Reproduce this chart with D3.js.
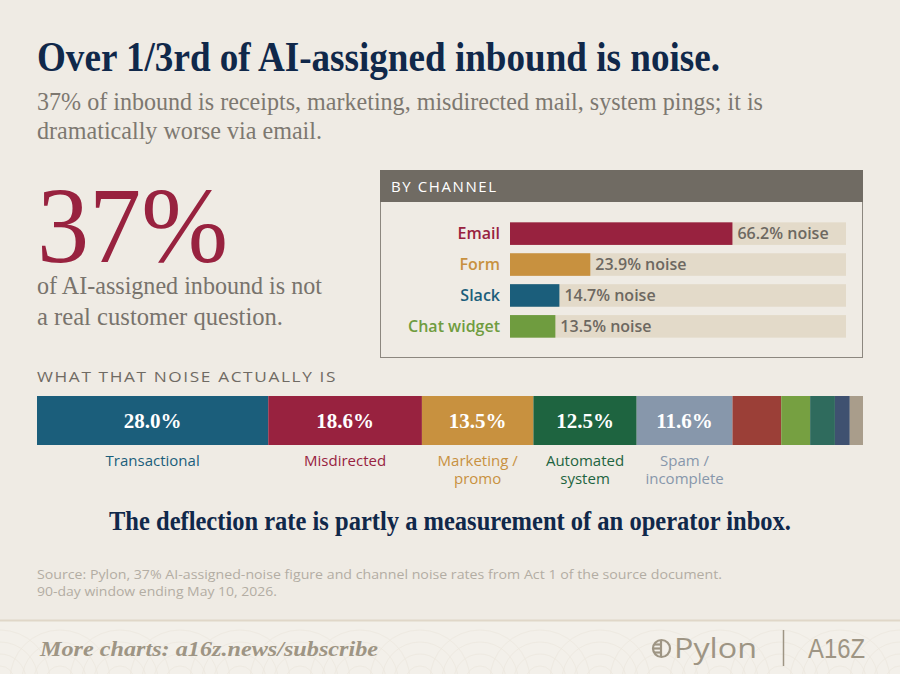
<!DOCTYPE html>
<html>
<head>
<meta charset="utf-8">
<script src="https://cdn.jsdelivr.net/npm/d3@7/dist/d3.min.js"></script>
<style>
  html, body { margin: 0; padding: 0; background: #efebe4; }
  svg { display: block; }
</style>
</head>
<body>
<div id="chart"></div>
<script>
// ---------- DATA ----------
const channels = ["Email", "Form", "Slack", "Chat widget"];
const channelNoise = [66.2, 23.9, 14.7, 13.5];
const channelColors = ["#98223f", "#c8913f", "#1b5e7b", "#6f9c3f"];

const noiseTypes = ["Transactional", "Misdirected", "Marketing / promo", "Automated system", "Spam / incomplete", "Other A", "Other B", "Other C", "Other D", "Other E"];
const noiseShares = [28.0, 18.6, 13.5, 12.5, 11.6, 5.9, 3.5, 3.0, 1.8, 1.6];
const noiseLabelLines = [["Transactional"], ["Misdirected"], ["Marketing /", "promo"], ["Automated", "system"], ["Spam /", "incomplete"], [], [], [], [], []];
const noiseShowValue = [true, true, true, true, true, false, false, false, false, false];
const noiseColors = ["#1b5e7b", "#98223f", "#c8913f", "#1e6440", "#8797ab", "#9b3f37", "#76a041", "#2f6b5d", "#3f5170", "#a99d8b"];

const headline = "Over 1/3rd of AI-assigned inbound is noise.";
const subtitleLines = ["37% of inbound is receipts, marketing, misdirected mail, system pings; it is", "dramatically worse via email."];
const bigStat = "37%";
const bigStatLines = ["of AI-assigned inbound is not", "a real customer question."];
const takeaway = "The deflection rate is partly a measurement of an operator inbox.";
const sourceLines = ["Source: Pylon, 37% AI-assigned-noise figure and channel noise rates from Act 1 of the source document.", "90-day window ending May 10, 2026."];

// ---------- SETUP ----------
const W = 900, H = 674;
const svg = d3.select("#chart").append("svg").attr("width", W).attr("height", H);
svg.append("rect").attr("width", W).attr("height", H).attr("fill", "#efebe4");

function txt(g, s, x, y, o) {
  const t = g.append("text").attr("x", x).attr("y", y).text(s)
    .attr("font-family", o.family || "Liberation Serif")
    .attr("font-size", o.size)
    .attr("fill", o.fill || "#000");
  if (o.weight) t.attr("font-weight", o.weight);
  if (o.style) t.attr("font-style", o.style);
  if (o.anchor) t.attr("text-anchor", o.anchor);
  if (o.ls) t.attr("letter-spacing", o.ls);
  if (o.len) t.attr("textLength", o.len).attr("lengthAdjust", "spacingAndGlyphs");
  return t;
}

// ---------- HEADER ----------
txt(svg, headline, 37, 71, {size: 42, weight: "bold", fill: "#10284a", len: 683});
txt(svg, subtitleLines[0], 37, 110, {size: 25, fill: "#7d7870", len: 726});
txt(svg, subtitleLines[1], 37, 139, {size: 25, fill: "#7d7870", len: 285});

// ---------- BIG STAT (one text block) ----------
const bs = svg.append("text").attr("font-family", "Liberation Serif");
bs.append("tspan").attr("x", 37).attr("y", 262).attr("font-size", 108).attr("fill", "#98223f")
  .attr("textLength", 191).attr("lengthAdjust", "spacingAndGlyphs").text(bigStat);
const bsLens = [285, 246];
bigStatLines.forEach((ln, k) => {
  bs.append("tspan").attr("x", 37).attr("y", 294 + k * 31).attr("font-size", 25).attr("fill", "#78736c")
    .attr("textLength", bsLens[k]).attr("lengthAdjust", "spacingAndGlyphs").text(ln);
});

// ---------- BY CHANNEL BOX ----------
const box = svg.append("g");
box.append("rect").attr("x", 380.5).attr("y", 170.5).attr("width", 482).attr("height", 187)
  .attr("fill", "none").attr("stroke", "#8c877f").attr("stroke-width", 1);
box.append("rect").attr("x", 380).attr("y", 170).attr("width", 483).attr("height", 32).attr("fill", "#706b63");
txt(box, "BY CHANNEL", 391, 192, {family: "Open Sans", size: 15, fill: "#ffffff", ls: 1.6});

const xChan = d3.scaleLinear().domain([0, 100]).range([510, 846]);
const yChan = d3.scaleBand().domain(channels).range([214, 346]).padding(0.27);

const rows = box.selectAll("g.row").data(channels).join("g").attr("class", "row");
rows.append("rect")
  .attr("x", xChan(0)).attr("y", d => yChan(d))
  .attr("width", xChan(100) - xChan(0)).attr("height", yChan.bandwidth())
  .attr("fill", "#e3dac9");
rows.append("rect")
  .attr("x", xChan(0)).attr("y", d => yChan(d))
  .attr("width", (d, i) => xChan(channelNoise[i]) - xChan(0)).attr("height", yChan.bandwidth())
  .attr("fill", (d, i) => channelColors[i]);
rows.append("text")
  .attr("x", xChan(0) - 10).attr("y", d => yChan(d) + yChan.bandwidth() / 2)
  .attr("dy", "0.35em").attr("text-anchor", "end")
  .attr("font-family", "Open Sans").attr("font-weight", 600).attr("font-size", 16)
  .attr("fill", (d, i) => channelColors[i])
  .text(d => d);
rows.append("text")
  .attr("x", (d, i) => xChan(channelNoise[i]) + 5).attr("y", d => yChan(d) + yChan.bandwidth() / 2)
  .attr("dy", "0.36em")
  .attr("font-family", "Open Sans").attr("font-weight", 600).attr("font-size", 16)
  .attr("fill", "#6d6861")
  .text((d, i) => d3.format(".1f")(channelNoise[i]) + "% noise");

// ---------- WHAT THAT NOISE ACTUALLY IS ----------
txt(svg, "WHAT THAT NOISE ACTUALLY IS", 37, 382, {family: "Open Sans", size: 15, fill: "#6f6a63", ls: 1.4, len: 300});

const total = d3.sum(noiseShares);
const xStack = d3.scaleLinear().domain([0, total]).range([37, 863]);
const starts = d3.cumsum([0].concat(noiseShares.slice(0, -1)));
const segs = noiseTypes.map((n, i) => ({name: n, v: noiseShares[i], s: starts[i], i}));
const barY = 396, barH = 49;

const sg = svg.selectAll("g.seg").data(segs).join("g").attr("class", "seg");
sg.append("rect")
  .attr("x", d => xStack(d.s)).attr("y", barY)
  .attr("width", d => xStack(d.s + d.v) - xStack(d.s)).attr("height", barH)
  .attr("fill", d => noiseColors[d.i]);
sg.filter(d => noiseShowValue[d.i]).append("text")
  .attr("x", d => (xStack(d.s) + xStack(d.s + d.v)) / 2).attr("y", barY + barH / 2)
  .attr("dy", "0.35em").attr("text-anchor", "middle")
  .attr("font-family", "Liberation Serif").attr("font-weight", "bold").attr("font-size", 21)
  .attr("fill", "#ffffff")
  .text(d => d3.format(".1f")(d.v) + "%");
sg.filter(d => noiseLabelLines[d.i].length > 0).each(function(d) {
  const cx = (xStack(d.s) + xStack(d.s + d.v)) / 2;
  const t = d3.select(this).append("text")
    .attr("text-anchor", "middle")
    .attr("font-family", "Open Sans").attr("font-size", 15)
    .attr("fill", noiseColors[d.i]);
  noiseLabelLines[d.i].forEach((ln, k) => {
    t.append("tspan").attr("x", cx).attr("y", 466 + k * 18).text(ln);
  });
});

// ---------- TAKEAWAY ----------
txt(svg, takeaway, 450, 530, {size: 27, weight: "bold", fill: "#10284a", anchor: "middle", len: 682});

// ---------- SOURCE ----------
txt(svg, sourceLines[0], 37, 579, {family: "Open Sans", size: 12.5, fill: "#b3ada3", len: 685});
txt(svg, sourceLines[1], 37, 596, {family: "Open Sans", size: 12.5, fill: "#b3ada3", len: 240});

// ---------- FOOTER ----------
const foot = svg.append("g");
foot.append("rect").attr("x", 0).attr("y", 620).attr("width", W).attr("height", 54).attr("fill", "#f3f0ea");
// faint decorative arcs
const arcs = foot.append("g").attr("opacity", 0.5);
for (let cx = 0; cx <= W + 60; cx += 60) {
  for (let r = 14; r <= 60; r += 12) {
    arcs.append("circle").attr("cx", cx).attr("cy", 680).attr("r", r)
      .attr("fill", "none").attr("stroke", "#e6dfd3").attr("stroke-width", 0.7);
  }
}
foot.append("line").attr("x1", 0).attr("x2", W).attr("y1", 620.5).attr("y2", 620.5)
  .attr("stroke", "#e0d7c8").attr("stroke-width", 2);
txt(foot, "More charts: a16z.news/subscribe", 40, 656, {size: 21, style: "italic", weight: "bold", fill: "#9e9584", len: 338});

// Pylon logo
const lg = foot.append("g").attr("stroke", "#9e9584").attr("fill", "none").attr("stroke-width", 2.2);
lg.append("circle").attr("cx", 661.5).attr("cy", 648.5).attr("r", 8.5);
lg.append("line").attr("x1", 661).attr("x2", 661).attr("y1", 641).attr("y2", 656);
[644.5, 648.5, 652.5].forEach(y => lg.append("line").attr("x1", 654).attr("x2", 661).attr("y1", y).attr("y2", y));
txt(foot, "Pylon", 674, 658, {family: "Open Sans", size: 27, fill: "#9e9584", len: 83});
foot.append("line").attr("x1", 783.5).attr("x2", 783.5).attr("y1", 630).attr("y2", 666)
  .attr("stroke", "#9e9584").attr("stroke-width", 1.5);
txt(foot, "A16Z", 808, 658, {family: "Liberation Sans", size: 28, fill: "#9e9584", len: 57});
</script>
</body>
</html>
